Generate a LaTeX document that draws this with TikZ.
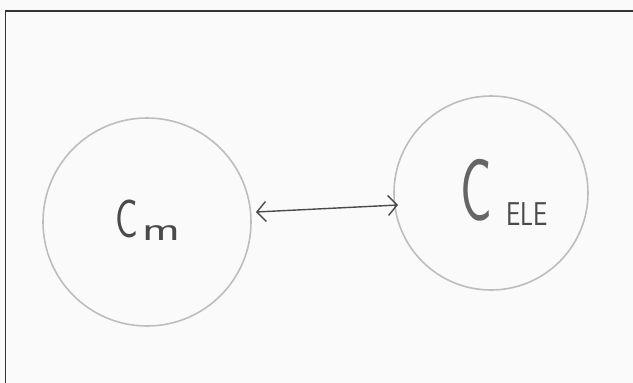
\documentclass[tikz,border=0pt]{standalone}
\usetikzlibrary{arrows.meta}
\definecolor{paper}{HTML}{FAFAFA}
\definecolor{ring}{HTML}{BDBDBD}
\definecolor{pencil}{HTML}{4A4A4A}
\definecolor{framec}{HTML}{333333}
\tikzset{
  circ/.style={draw=ring, line width=1.6pt, fill=none},
  hand/.style={text=pencil, inner sep=0pt, font=\sffamily},
  link/.style={draw=pencil, line width=1.4pt, {Straight Barb[length=9pt,width=20pt]}-{Straight Barb[length=9pt,width=20pt]}}
}
\begin{document}
\begin{tikzpicture}[x=1pt,y=-1pt]
  \useasboundingbox (0,0) rectangle (633,383);
  \fill[paper] (0,0) rectangle (633,383);
  \draw[framec, line width=1.6pt] (5.5,383) -- (5.5,11) -- (633,11);
  % circles
  \node[circ, circle, minimum size=208pt] (cm) at (147,222) {};
  \node[circ, circle, minimum size=194pt] (cele) at (491,193) {};
  % labels
  \node[hand, font=\sffamily\fontsize{54}{54}\selectfont] (cmC) at (127,219) {\scalebox{0.7}[1]{C}};
  \node[hand, font=\sffamily\fontsize{34}{34}\selectfont] (cmm) at (161,233) {\scalebox{1.5}[1]{m}};
  \node[hand, text=pencil!85, font=\sffamily\fontsize{88}{88}\selectfont] (celeC) at (476,190) {\scalebox{0.6}[1]{C}};
  \node[hand, font=\sffamily\fontsize{33}{33}\selectfont] (celeS) at (527,214) {\scalebox{0.77}[1]{ELE}};
  % connector
  \coordinate (la) at (256,212);
  \coordinate (ra) at (398,205);
  \draw[link] (la) -- (ra);
\end{tikzpicture}
\end{document}
